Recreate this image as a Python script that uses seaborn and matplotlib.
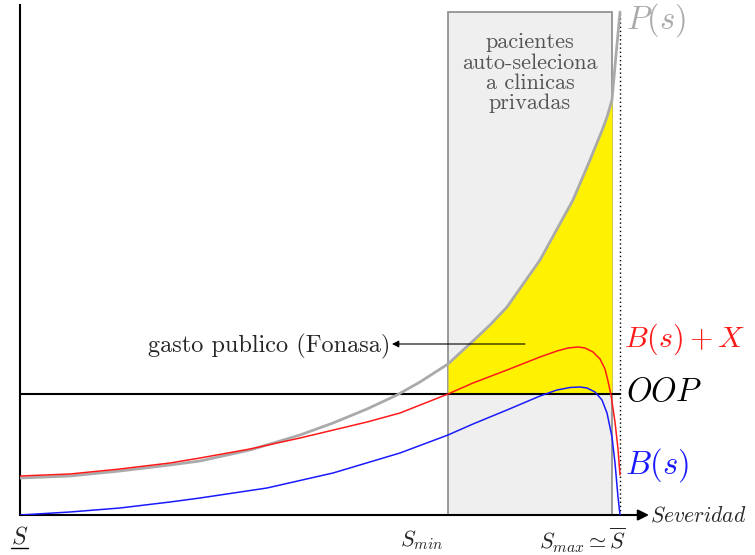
import numpy as np
import pandas as pd
import seaborn as sns
import matplotlib.pyplot as plt
from matplotlib.patches import Rectangle

# severity axis runs from S_ (0) to S bar (600); heights in the same arbitrary units
s_p = [0, 50, 100, 150, 180, 230, 280, 313, 347, 377, 400, 428, 453, 470, 487,
       520, 553, 570, 583, 587, 592, 596, 600]
p_s = [37, 39, 44, 50, 54, 65, 80, 92, 106, 120, 133, 151, 174, 190, 208,
       255, 315, 355, 387, 398, 415, 460, 503]

s_bx = [0, 50, 100, 150, 180, 230, 280, 347, 380, 428, 453, 487, 520, 537, 548,
        558, 565, 573, 580, 585, 588, 591, 595, 598, 600]
bx_s = [39, 41, 46, 52, 57, 66, 77, 93, 102, 121, 132, 145, 158, 164, 167,
        168, 167, 163, 156, 146, 134, 120, 93, 66, 40]

s_b = [0, 50, 100, 150, 180, 247, 313, 380, 428, 453, 487, 520, 537, 550, 560,
       567, 575, 582, 587, 592, 595, 598, 600]
b_s = [0, 3, 7, 13, 17, 27, 42, 62, 80, 91, 105, 119, 125, 127.5, 128,
       127, 123, 115, 102, 78, 52, 18, 0]

oop = 121
s_min, s_max, s_bar = 428, 592, 600

plt.rcParams['mathtext.fontset'] = 'cm'
sns.set_style('white')
plt.rcParams['font.family'] = ['cmr10', 'DejaVu Serif']
plt.rcParams['axes.formatter.use_mathtext'] = True

fig = plt.figure(figsize=(7.55, 5.55), dpi=100)
ax = fig.add_axes([20 / 755, 40 / 555, 630 / 755, 510 / 555])
ax.set_xlim(0, 630)
ax.set_ylim(0, 510)

# box: patients self-selecting into private clinics
ax.add_patch(Rectangle((s_min, 0), s_max - s_min, 503, facecolor='#efefef',
                       edgecolor='#8a8a8a', lw=1.2, zorder=1))
ax.text((s_min + s_max) / 2, 442, 'pacientes\nauto-seleciona\na clinicas\nprivadas',
        ha='center', va='center', color='#555555', fontsize=16, linespacing=1.05,
        zorder=2)

# yellow area between OOP and P(s)
sp = np.array(s_p)
pp = np.array(p_s)
m = (sp >= s_min) & (sp <= s_max)
ax.fill_between(sp[m], oop, pp[m], color='#fff200', lw=0, zorder=2)

df_p = pd.DataFrame({'s': s_p, 'v': p_s})
df_bx = pd.DataFrame({'s': s_bx, 'v': bx_s})
df_b = pd.DataFrame({'s': s_b, 'v': b_s})
sns.lineplot(data=df_p, x='s', y='v', color='#aaaaaa', lw=2, ax=ax, zorder=4)
sns.lineplot(data=df_bx, x='s', y='v', color='#ff1a1a', lw=1.1, ax=ax, zorder=5)
sns.lineplot(data=df_b, x='s', y='v', color='#1a1aff', lw=1.1, ax=ax, zorder=5)

ax.plot([0, s_bar], [oop, oop], color='black', lw=1.5, zorder=3)
ax.plot([s_bar, s_bar], [0, 503], color='black', lw=1, ls=(0, (1, 2)), zorder=3)

# axes
for side in ['top', 'right', 'bottom']:
    ax.spines[side].set_visible(False)
ax.spines['left'].set_color('black')
ax.spines['left'].set_linewidth(1.5)
ax.set_xticks([])
ax.set_yticks([])
ax.set_xlabel('')
ax.set_ylabel('')
ax.annotate('', xy=(629, 0), xytext=(0, 0), annotation_clip=False,
            arrowprops=dict(arrowstyle='-|>', color='black', lw=1.5,
                            mutation_scale=16, shrinkA=0, shrinkB=0))

ax.text(630, -1, '$Severidad$', fontsize=15.5, ha='left', va='center', clip_on=False)
ax.text(0, -22, '$S$', fontsize=17, ha='center', va='center', clip_on=False)
ax.plot([-9, 8], [-33, -33], color='black', lw=1, clip_on=False)
ax.text(402, -25, '$S_{min}$', fontsize=16, ha='center', va='center', clip_on=False)
ax.text(563, -25, r'$S_{max}\simeq\overline{S}$', fontsize=16, ha='center',
        va='center', clip_on=False)

ax.text(606, 495, '$P(s)$', fontsize=23.5, color='#aaaaaa', ha='left', va='center')
ax.text(604, 176, '$B(s)+X$', fontsize=21.5, color='#ff1a1a', ha='left', va='center')
ax.text(606, 123, '$OOP$', fontsize=23.5, color='black', ha='left', va='center')
ax.text(605, 50, '$B(s)$', fontsize=23.5, color='#1a1aff', ha='left', va='center')

ax.text(370, 169, 'gasto publico (Fonasa)', fontsize=17.5, ha='right', va='center')
ax.annotate('', xy=(372, 171), xytext=(505, 171),
            arrowprops=dict(arrowstyle='-|>', color='black', lw=0.8,
                            mutation_scale=10, shrinkA=0, shrinkB=0), zorder=6)

fig.savefig('out.png', dpi=100)
